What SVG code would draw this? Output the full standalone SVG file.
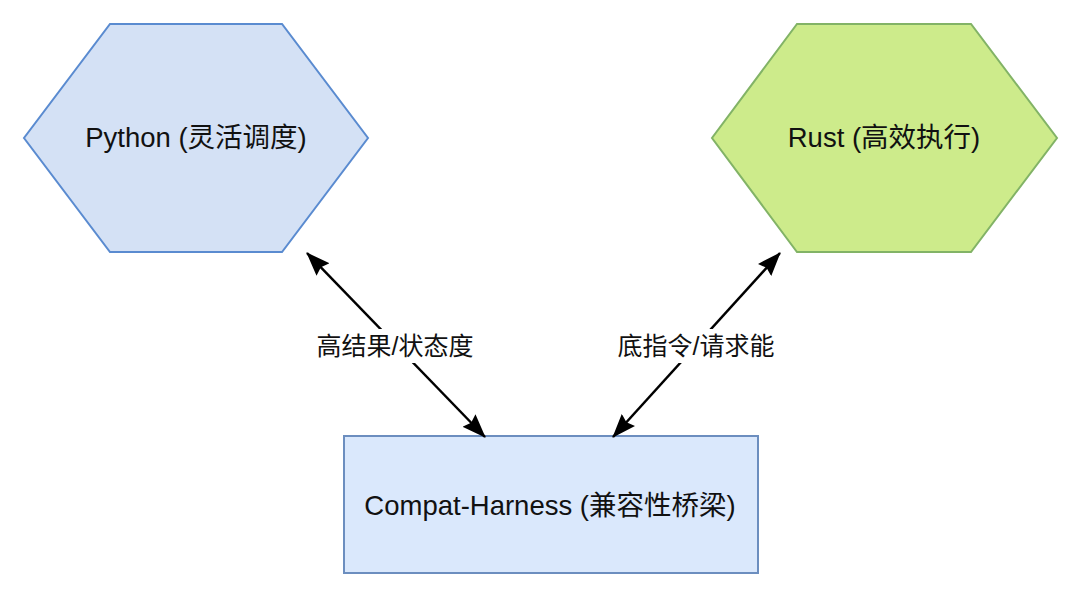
<svg xmlns="http://www.w3.org/2000/svg" width="1080" height="598" viewBox="0 0 1080 598">
<style>
.node-text{font-family:"Liberation Sans","Noto Sans CJK SC",sans-serif;font-size:27.5px;fill:#111;text-anchor:middle}
.edge-text{font-family:"Liberation Sans","Noto Sans CJK SC",sans-serif;font-size:25px;fill:#111;text-anchor:middle}
.edge{stroke:#000;stroke-width:2.5;fill:none;marker-start:url(#arr);marker-end:url(#arr)}
</style>
<defs>
<marker id="arr" viewBox="0 0 24 18" markerWidth="24" markerHeight="18" refX="23" refY="9" orient="auto-start-reverse" markerUnits="userSpaceOnUse">
<path d="M0,0 L24,9 L0,18 L3,9 z" fill="#000"/>
</marker>
</defs>
<rect width="1080" height="598" fill="#fff"/>
<g id="python">
<polygon points="110,24 282,24 368,138 282,252 110,252 24,138" fill="#d4e1f5" stroke="#5a8bd0" stroke-width="2"/>
<text class="node-text" x="196" y="147">Python (灵活调度)</text>
</g>
<g id="rust">
<polygon points="797,24 971,24 1057,138 971,252 797,252 712,138" fill="#cdeb8b" stroke="#82b366" stroke-width="2"/>
<text class="node-text" x="884" y="147">Rust (高效执行)</text>
</g>
<g id="harness">
<rect x="344" y="436" width="414" height="137" fill="#dae8fc" stroke="#6c8ebf" stroke-width="2"/>
<text class="node-text" x="550" y="515">Compat-Harness (兼容性桥梁)</text>
</g>
<g id="connectors">
<line class="edge" x1="485" y1="437" x2="307" y2="253"/>
<line class="edge" x1="613" y1="437" x2="780" y2="253"/>
<rect x="310" y="329" width="170" height="34" fill="#fff"/>
<text class="edge-text" x="395" y="355">高结果/状态度</text>
<rect x="610" y="329" width="170" height="34" fill="#fff"/>
<text class="edge-text" x="696" y="355">底指令/请求能</text>
</g>
</svg>
